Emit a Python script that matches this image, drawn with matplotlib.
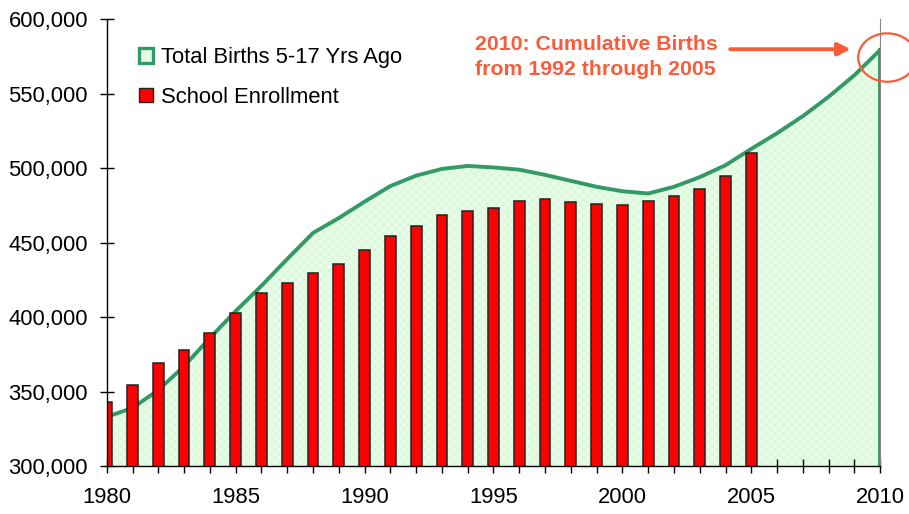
import matplotlib
matplotlib.use("Agg")
import matplotlib.pyplot as plt
from matplotlib.patches import Patch, Ellipse
from matplotlib.ticker import FuncFormatter
import numpy as np

plt.rcParams['font.family'] = ['Liberation Sans', 'DejaVu Sans']
plt.rcParams['hatch.linewidth'] = 0.5

# ---- data ----
birth_years = list(range(1980, 2011))
births = [333000, 339000, 351000, 367000, 386000, 404000, 421000, 439000,
          456500, 466500, 477500, 488000, 495000, 499500, 501500, 500500,
          499000, 495500, 491500, 487500, 484500, 483000, 487500, 494000,
          502000, 513000, 523500, 535000, 548000, 562500, 579500]
enroll_years = list(range(1980, 2006))
enrollment = [343000, 354500, 369000, 378000, 389500, 403000, 416500, 423000,
              429500, 435500, 445000, 454500, 461000, 468500, 471500, 473500,
              478000, 479300, 477000, 476000, 475300, 478000, 481000, 486000,
              495000, 510000]
x_ticks = [1980, 1985, 1990, 1995, 2000, 2005, 2010]
y_ticks = [300000, 350000, 400000, 450000, 500000, 550000, 600000]
births_label = "Total Births 5-17 Yrs Ago"
enroll_label = "School Enrollment"
note_text = "2010: Cumulative Births\nfrom 1992 through 2005"

green = '#339966'
fill_c = '#e6fce6'
red = '#ff0000'
note_c = '#fa5c3a'

fig = plt.figure(figsize=(9.09, 5.14), dpi=100)
ax = fig.add_axes([0.1174, 0.0934, 0.851, 0.8691])

ymin = y_ticks[0]
ax.fill_between(birth_years, ymin, births, facecolor=fill_c,
                edgecolor='#d4f6d4', hatch='xxxx', linewidth=0, zorder=1)
ax.plot(birth_years, births, color=green, lw=2.8, zorder=2,
        solid_joinstyle='round')
ax.plot([birth_years[-1], birth_years[-1]], [ymin, births[-1]],
        color=green, lw=2.8, zorder=2)
ax.bar(enroll_years, enrollment, width=0.42, bottom=0,
       color=red, edgecolor='#222222', linewidth=1.1, zorder=3)

ax.set_xlim(x_ticks[0], x_ticks[-1])
ax.set_ylim(y_ticks[0], y_ticks[-1])
ax.set_xticks(x_ticks)
ax.set_xticks(range(x_ticks[0], x_ticks[-1] + 1), minor=True)
ax.set_yticks(y_ticks)
ax.yaxis.set_major_formatter(FuncFormatter(lambda v, p: f"{int(v):,}"))

ax.tick_params(axis='both', which='both', direction='inout', length=10,
               width=1.0, color='black', labelsize=15.8)
ax.tick_params(axis='x', which='major', pad=10)
ax.tick_params(axis='y', pad=8.5)
ax.spines['top'].set_visible(False)
ax.spines['right'].set_color('#888888')
ax.spines['right'].set_linewidth(0.8)
for s in ('left', 'bottom'):
    ax.spines[s].set_linewidth(1.0)
    ax.spines[s].set_zorder(4)

handles = [Patch(facecolor=fill_c, edgecolor=green, linewidth=2.4),
           Patch(facecolor=red, edgecolor='#222222', linewidth=1.0)]
ax.legend(handles, [births_label, enroll_label], loc='upper left',
          bbox_to_anchor=(0.042, 0.937), frameon=False, fontsize=15.8,
          handlelength=0.65, handleheight=0.65, handletextpad=0.35,
          labelspacing=0.83, borderpad=0, borderaxespad=0)

# annotation
ax.text(0.476, 0.9156, note_text, transform=ax.transAxes, color=note_c,
        fontsize=15.3, fontweight='bold', ha='left', va='center',
        linespacing=1.36)
ax.annotate('', xy=(2008.85, 579900), xytext=(2004.18, 579900),
            arrowprops=dict(arrowstyle='-|>,head_length=0.75,head_width=0.38',
                            color=note_c, lw=2.8, shrinkA=0, shrinkB=0),
            annotation_clip=False)
ax.add_patch(Ellipse((2010.27, 574300), 2.25, 32500, fill=False,
                     edgecolor=note_c, lw=1.6, clip_on=False, zorder=5))

fig.savefig('out.png', dpi=100)
